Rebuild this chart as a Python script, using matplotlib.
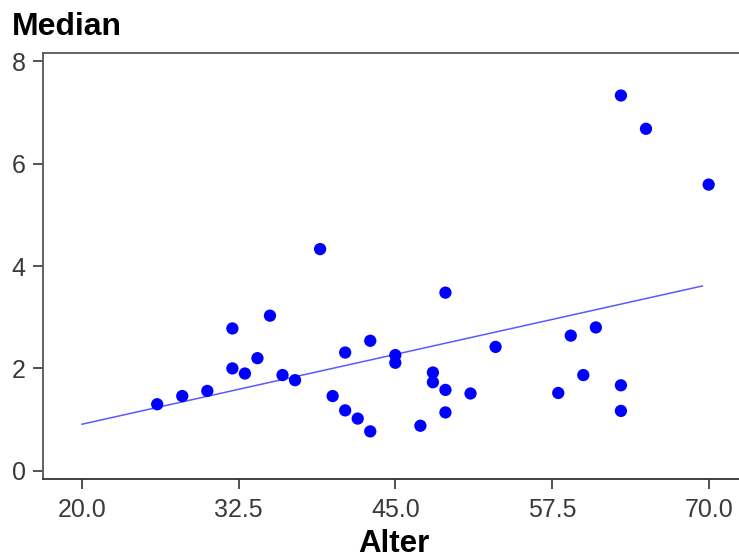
import matplotlib
matplotlib.use('Agg')
import matplotlib.pyplot as plt
import numpy as np

# data
alter = [26, 28, 30, 32, 32, 33, 34, 35, 36, 37, 39, 40, 41, 41, 42, 43, 43,
         45, 45, 47, 48, 48, 49, 49, 49, 51, 53, 58, 59, 60, 61, 63, 63, 63, 65, 70]
median = [1.30, 1.46, 1.56, 2.78, 2.00, 1.90, 2.20, 3.03, 1.87, 1.77, 4.33, 1.46,
          2.31, 1.18, 1.02, 2.54, 0.77, 2.26, 2.11, 0.88, 1.92, 1.73, 3.48, 1.58,
          1.14, 1.51, 2.42, 1.52, 2.64, 1.87, 2.80, 7.33, 1.67, 1.17, 6.68, 5.59]

# fitted line, end points
fit_x = [20, 69.5]
fit_y = [0.91, 3.61]

xticks = [20.0, 32.5, 45.0, 57.5, 70.0]
yticks = [0, 2, 4, 6, 8]

plt.rcParams['font.family'] = ['Liberation Sans', 'DejaVu Sans']

fig = plt.figure(figsize=(7.39, 5.60), dpi=100)
ax = fig.add_axes([43 / 739, 81 / 560, 702 / 739, 426 / 560])

ax.plot(fit_x, fit_y, color='#5a5aff', lw=1.1, zorder=2)
ax.scatter(alter, median, s=78, color='#0000ff', edgecolors='none', zorder=3)

ax.set_xlim(16.89, 72.9)
ax.set_ylim(-0.16, 8.16)
ax.set_xticks(xticks)
ax.set_xticklabels(['%.1f' % t for t in xticks])
ax.set_yticks(yticks)

ax.spines['right'].set_visible(False)
for s in ['left', 'bottom', 'top']:
    ax.spines[s].set_color('#555555')
    ax.spines[s].set_linewidth(1.3)
ax.spines['bottom'].set_color('#333333')

ax.tick_params(axis='both', direction='out', length=7.5, width=1.2,
               color='#333333', labelsize=18, labelcolor='#3a3a3a')
ax.tick_params(axis='x', pad=6)
ax.tick_params(axis='y', pad=5)

fig.text(12 / 739, 1 - 35 / 560, 'Median', fontsize=23, fontweight='bold',
         ha='left', va='baseline')
ax.set_xlabel('Alter', fontsize=22.5, fontweight='bold', labelpad=5)

fig.savefig('out.png', dpi=100)
